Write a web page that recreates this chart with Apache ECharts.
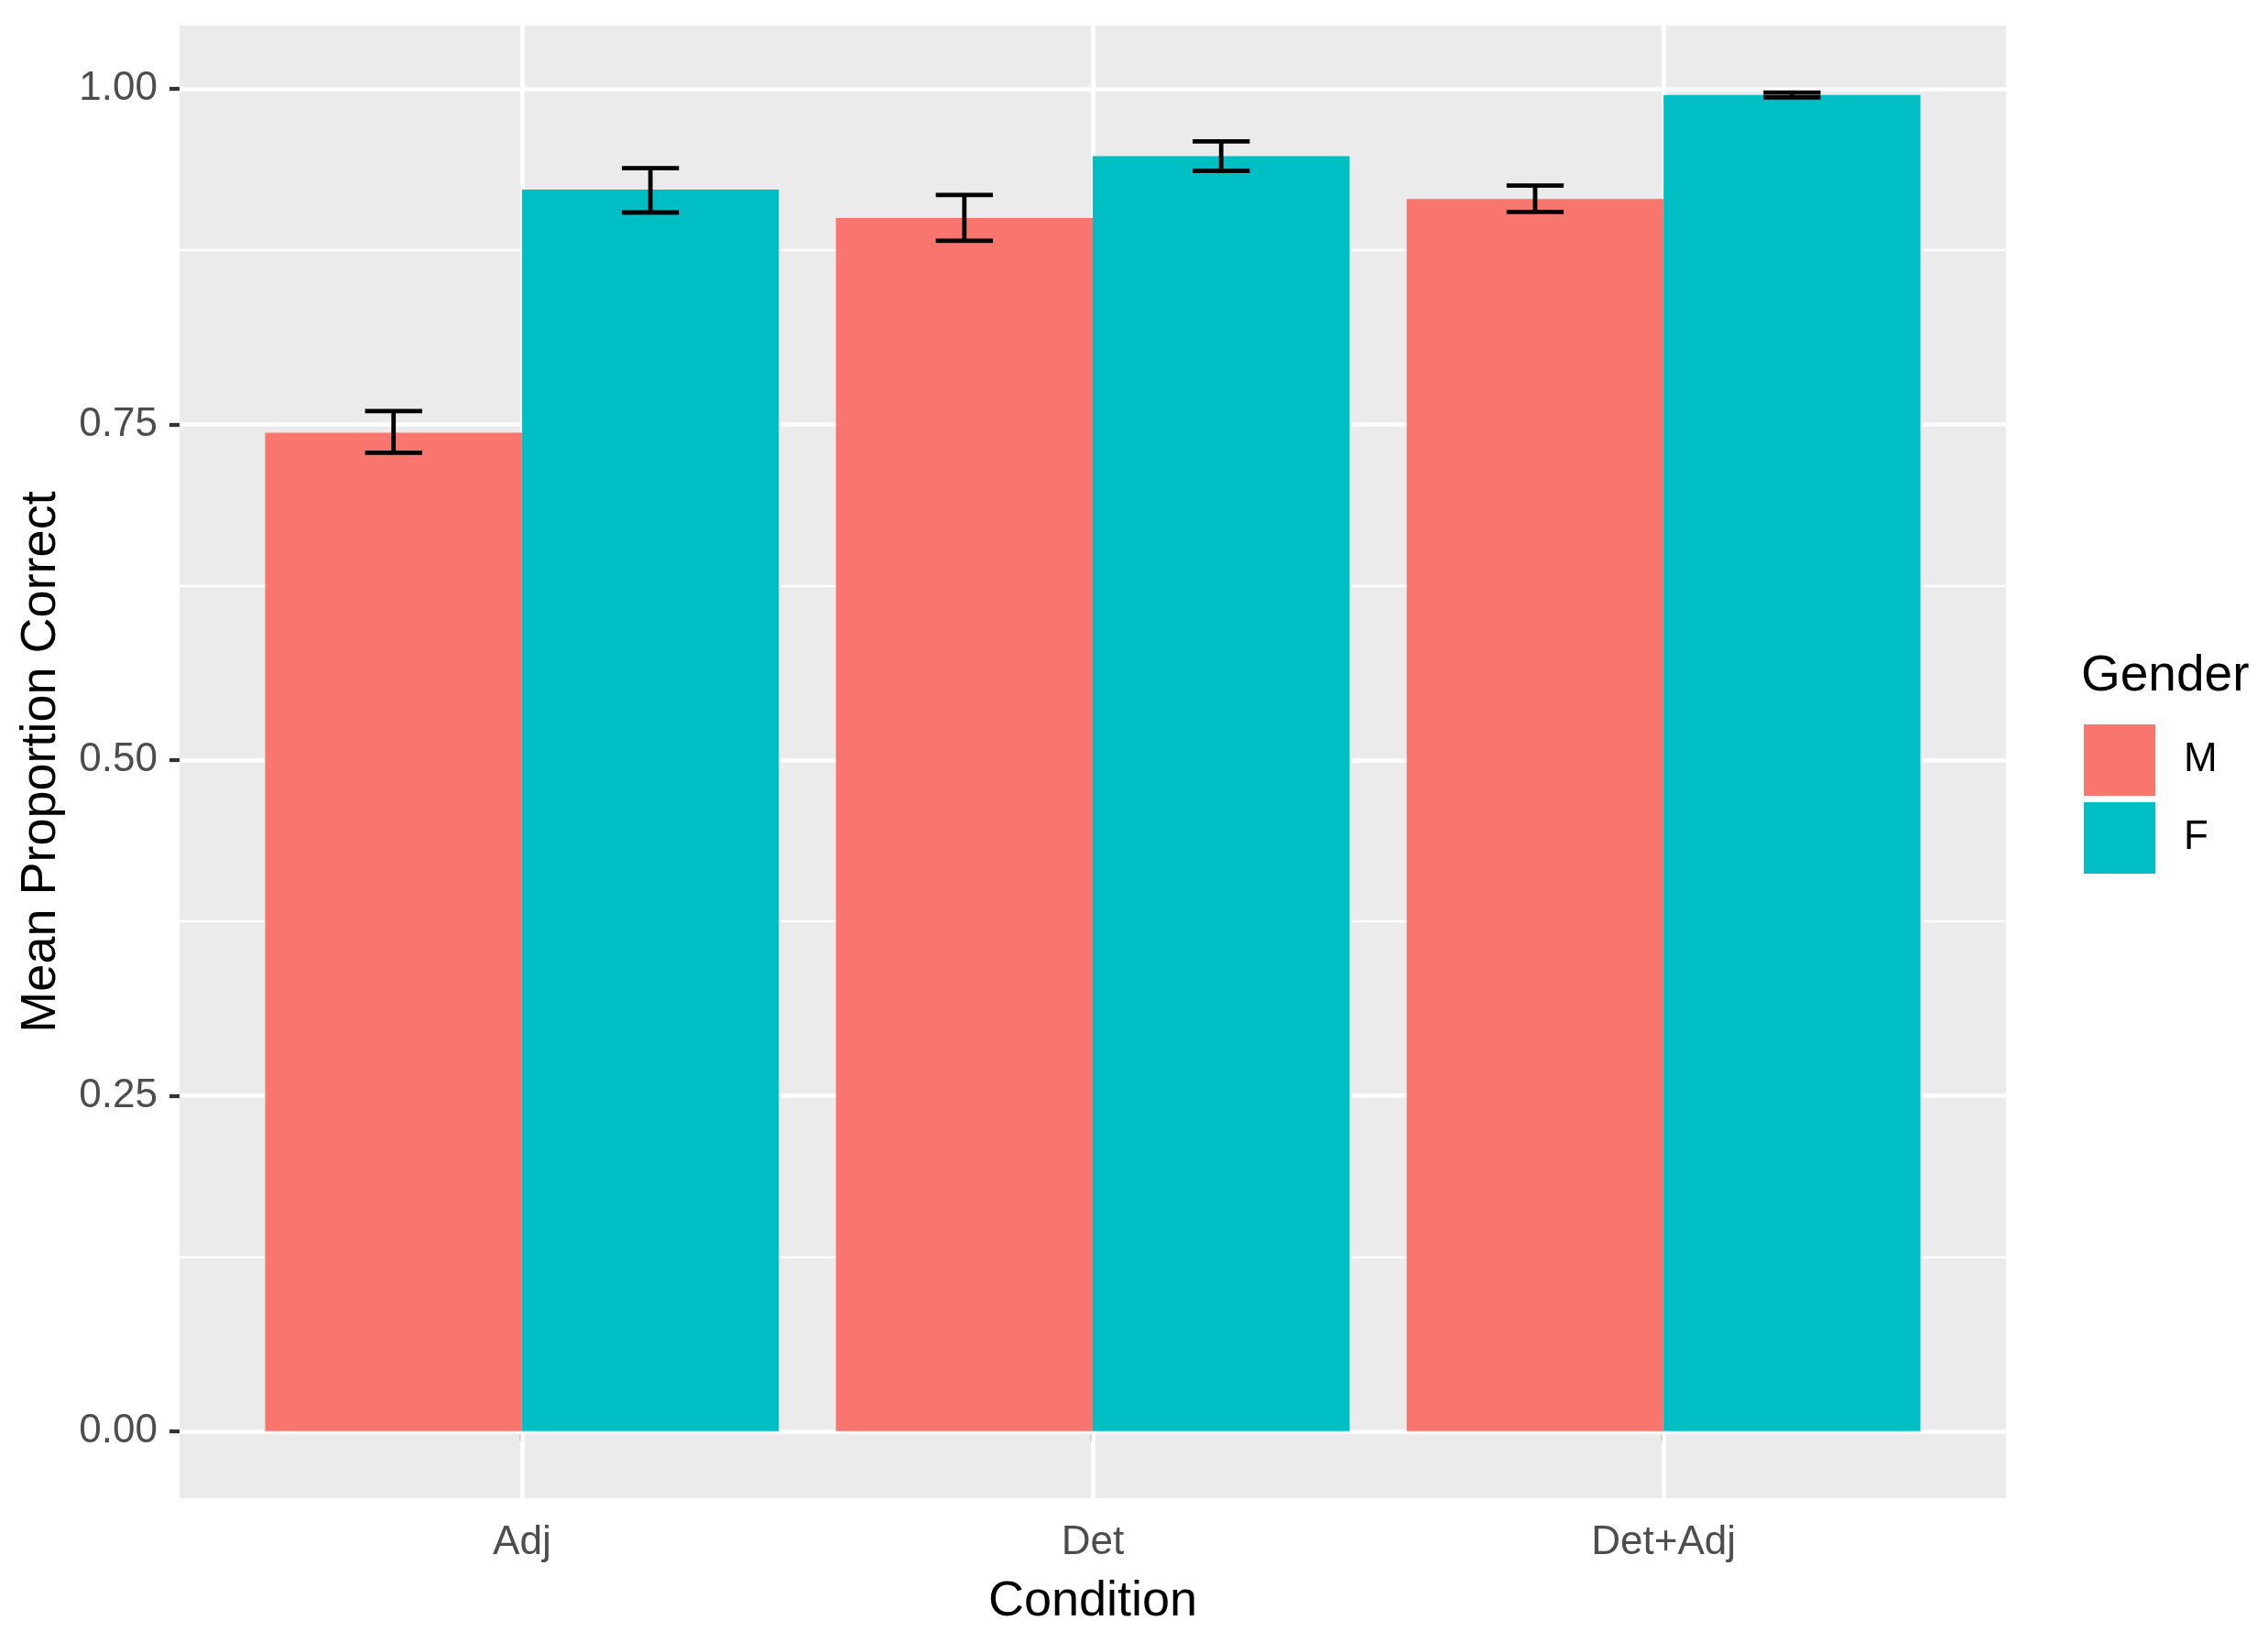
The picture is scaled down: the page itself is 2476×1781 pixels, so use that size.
<!DOCTYPE html>
<html><head><meta charset="utf-8">
<script src="https://cdn.jsdelivr.net/npm/echarts@6/dist/echarts.min.js"></script>
<style>html,body{margin:0;padding:0;background:#fff}#c{width:2476px;height:1781px}</style>
</head><body><div id="c"></div>
<script>
const categories = ['Adj', 'Det', 'Det+Adj'];
const xPositions = [1, 2, 3];
const maleMean = [0.744, 0.904, 0.918];
const maleLow = [0.729, 0.887, 0.9085];
const maleHigh = [0.760, 0.921, 0.928];
const femaleMean = [0.925, 0.950, 0.9955];
const femaleLow = [0.908, 0.939, 0.9937];
const femaleHigh = [0.941, 0.961, 0.9973];
const yTicks = [0, 0.25, 0.5, 0.75, 1];
const yMinor = [0.125, 0.375, 0.625, 0.875];

const FONT = 'Liberation Sans, Arial, sans-serif';
const DODGE = 0.45, CAP = 0.05, EW = 4.8;

function makeRender(side) {
  return function (params, api) {
    const x = api.value(0), m = api.value(1), lo = api.value(2), hi = api.value(3);
    const x0 = side < 0 ? x - DODGE : x;
    const x1 = side < 0 ? x : x + DODGE;
    const p0 = api.coord([x0, m]);
    const p1 = api.coord([x1, 0]);
    const xc = (x0 + x1) / 2;
    const a = api.coord([xc - CAP, hi]), b = api.coord([xc + CAP, hi]);
    const c = api.coord([xc - CAP, lo]), d = api.coord([xc + CAP, lo]);
    const t = api.coord([xc, hi]), u = api.coord([xc, lo]);
    const ls = { stroke: '#000', lineWidth: EW, lineCap: 'butt' };
    return {
      type: 'group',
      children: [
        { type: 'rect', shape: { x: p0[0], y: p0[1], width: p1[0] - p0[0], height: p1[1] - p0[1] }, style: { fill: api.visual('color') } },
        { type: 'line', shape: { x1: t[0], y1: t[1], x2: u[0], y2: u[1] }, style: ls },
        { type: 'line', shape: { x1: a[0], y1: a[1], x2: b[0], y2: b[1] }, style: ls },
        { type: 'line', shape: { x1: c[0], y1: c[1], x2: d[0], y2: d[1] }, style: ls }
      ]
    };
  };
}

const gridLines = []
  .concat(yTicks.map(v => ({ yAxis: v, lineStyle: { width: 4.7 } })))
  .concat(yMinor.map(v => ({ yAxis: v, lineStyle: { width: 2.3 } })))
  .concat(xPositions.map(v => ({ xAxis: v, lineStyle: { width: 4.7 } })));

const chart = echarts.init(document.getElementById('c'), null, { renderer: 'canvas' });
chart.setOption({
  animation: false,
  backgroundColor: '#ffffff',
  title: {
    text: 'Gender', left: 2272, top: 711, padding: 0,
    textStyle: { fontFamily: FONT, fontSize: 55, fontWeight: 'normal', color: '#000' }
  },
  legend: {
    orient: 'vertical', left: 2275, top: 791, padding: 0,
    itemWidth: 78, itemHeight: 78, itemGap: 7, icon: 'rect', selectedMode: false,
    data: [{ name: 'M' }, { name: 'F' }],
    textStyle: { fontFamily: FONT, fontSize: 44, color: '#000', padding: [8, 0, 0, 26] }
  },
  grid: {
    left: 196, right: 286, top: 28, bottom: 144,
    show: true, backgroundColor: '#EBEBEB', borderWidth: 0, containLabel: false
  },
  xAxis: {
    type: 'value', min: 0.4, max: 3.6,
    axisLine: { show: false },
    splitLine: { show: false },
    axisTick: { show: true, customValues: xPositions, length: 11, lineStyle: { color: '#333333', width: 4.3 } },
    axisLabel: {
      customValues: xPositions, formatter: v => categories[Math.round(v) - 1],
      fontFamily: FONT, fontSize: 44, color: '#4D4D4D', margin: 27
    },
    name: 'Condition', nameLocation: 'middle', nameGap: 86,
    nameTextStyle: { fontFamily: FONT, fontSize: 54, color: '#000' }
  },
  yAxis: {
    type: 'value', min: -0.0499, max: 1.0472,
    axisLine: { show: false },
    splitLine: { show: false },
    axisTick: { show: true, customValues: yTicks, length: 11, lineStyle: { color: '#333333', width: 4.3 } },
    axisLabel: {
      customValues: yTicks, formatter: v => v.toFixed(2),
      fontFamily: FONT, fontSize: 44, color: '#4D4D4D', margin: 24
    },
    name: 'Mean Proportion Correct', nameLocation: 'middle', nameGap: 124, nameRotate: 90,
    nameTextStyle: { fontFamily: FONT, fontSize: 54, color: '#000' }
  },
  series: [
    {
      name: 'M', type: 'custom', z: 2, renderItem: makeRender(-1),
      itemStyle: { color: '#F8766D' },
      encode: { x: 0, y: [1, 2, 3] },
      data: maleMean.map((v, i) => [xPositions[i], v, maleLow[i], maleHigh[i]]),
      markLine: {
        silent: true, z: 1, symbol: 'none', animation: false,
        label: { show: false },
        lineStyle: { color: '#FFFFFF', type: 'solid' },
        data: gridLines
      }
    },
    {
      name: 'F', type: 'custom', z: 2, renderItem: makeRender(1),
      itemStyle: { color: '#00BFC4' },
      encode: { x: 0, y: [1, 2, 3] },
      data: femaleMean.map((v, i) => [xPositions[i], v, femaleLow[i], femaleHigh[i]])
    }
  ]
});
</script></body></html>
